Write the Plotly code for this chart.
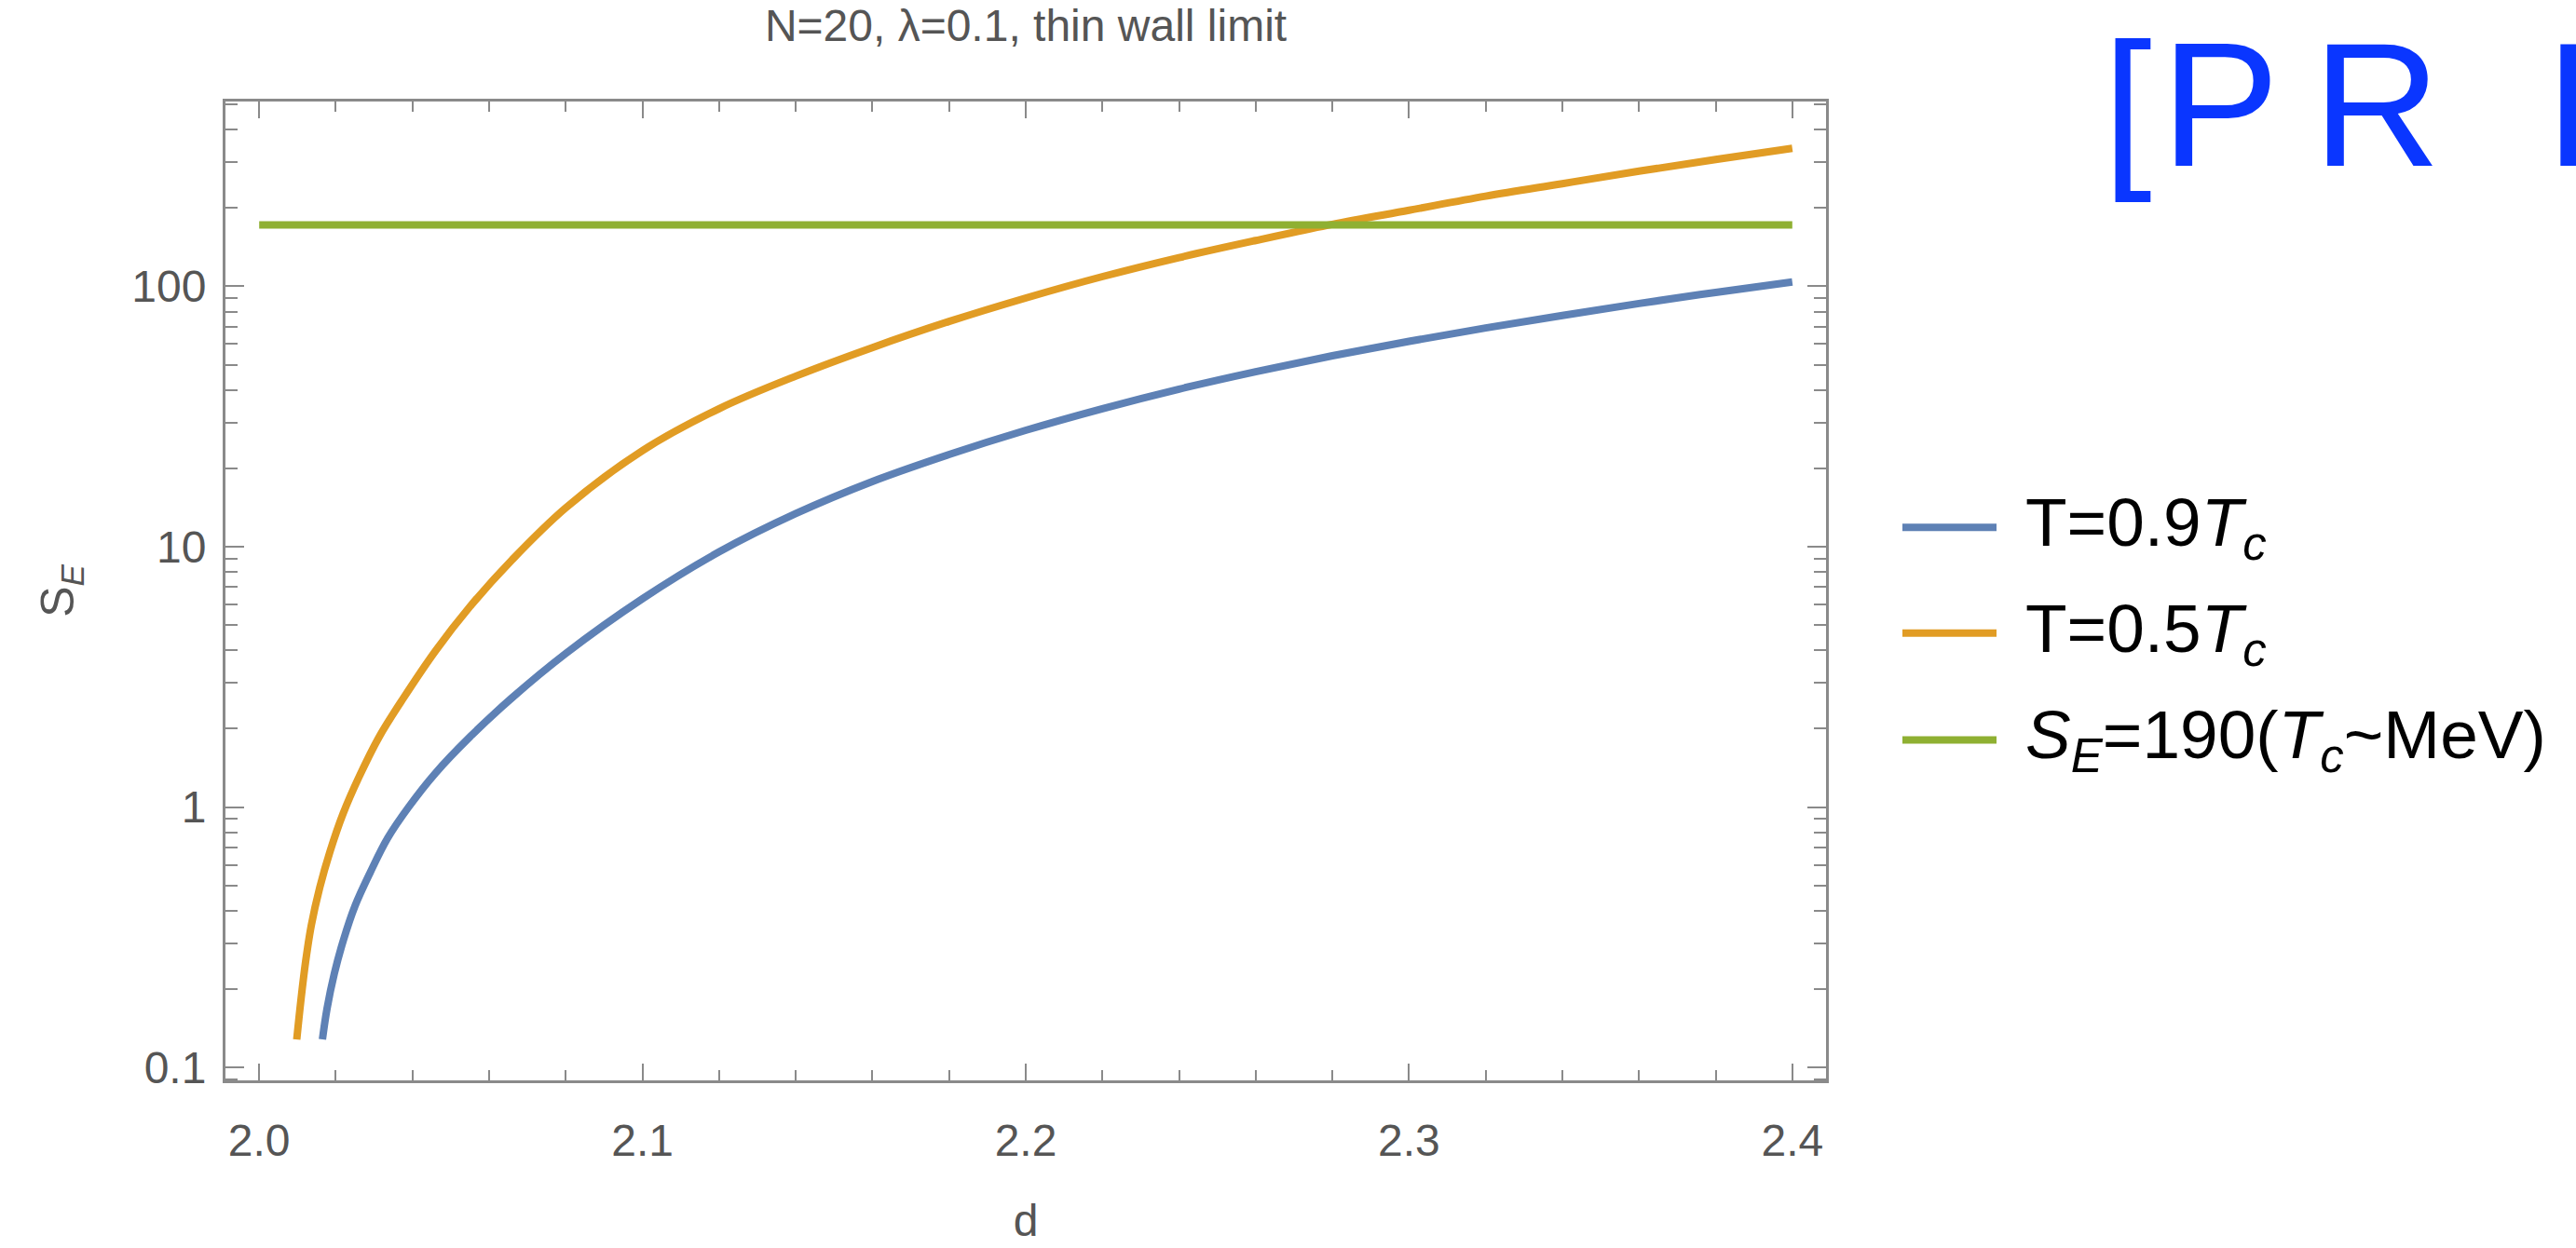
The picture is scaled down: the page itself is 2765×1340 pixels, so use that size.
import plotly.graph_objects as go

# ---- data ----
d_09 = [2.0165, 2.0177, 2.0196, 2.022, 2.025, 2.029, 2.0335, 2.039, 2.046, 2.055,
        2.066, 2.08, 2.10, 2.12, 2.14, 2.16, 2.18, 2.20, 2.22, 2.24, 2.26, 2.28,
        2.30, 2.32, 2.34, 2.36, 2.38, 2.40]
se_09 = [0.128, 0.168, 0.229, 0.309, 0.417, 0.562, 0.759, 1.0, 1.35, 1.86,
         2.63, 3.89, 6.31, 9.55, 13.4, 17.8, 22.6, 28.0, 33.9, 40.3, 47.0, 54.1,
         61.5, 69.2, 77.3, 85.9, 94.8, 104]

d_05 = [2.0098, 2.0109, 2.0121, 2.0136, 2.0158, 2.0185, 2.0219, 2.026, 2.0313, 2.0377,
        2.046, 2.055, 2.066, 2.08, 2.10, 2.12, 2.14, 2.16, 2.18, 2.20, 2.22, 2.24,
        2.26, 2.28, 2.30, 2.32, 2.34, 2.36, 2.38, 2.40]
se_05 = [0.128, 0.182, 0.254, 0.351, 0.49, 0.676, 0.944, 1.30, 1.86, 2.63,
         3.98, 5.89, 8.91, 14.1, 23.4, 33.9, 45.2, 58.2, 73.3, 90.2, 109, 129,
         150, 173, 196, 222, 248, 277, 307, 339]

d_bound = [2.0, 2.4]
se_bound = [172, 172]

names = ["T=0.9<i>T</i><sub><i>c</i></sub>",
         "T=0.5<i>T</i><sub><i>c</i></sub>",
         "<i>S</i><sub><i>E</i></sub>=190(<i>T</i><sub><i>c</i></sub>~MeV)"]
colors = ["#5E81B5", "#E19C24", "#8FB032"]

x_major = [2.0, 2.1, 2.2, 2.3, 2.4]
x_minor = [2.02, 2.04, 2.06, 2.08, 2.12, 2.14, 2.16, 2.18, 2.22, 2.24, 2.26, 2.28,
           2.32, 2.34, 2.36, 2.38]
y_major = [0.1, 1, 10, 100]
y_major_text = ["0.1", "1", "10", "100"]
y_minor = [0.09] + [m * 10.0 ** e for e in (-1, 0, 1) for m in range(2, 10)] + [200, 300, 400, 500]

FONT = "Liberation Sans, Arial, sans-serif"
AX = "#8a8a8a"
TXT = "#555555"

fig = go.Figure()
for xs, ys, c, n in [(d_09, se_09, colors[0], names[0]),
                     (d_05, se_05, colors[1], names[1]),
                     (d_bound, se_bound, colors[2], names[2])]:
    fig.add_trace(go.Scatter(x=xs, y=ys, mode="lines", name=n,
                             line=dict(color=c, width=8, shape="spline", smoothing=1.0),
                             showlegend=False))

W, H = 2765, 1340
L, R, T, B = 242, 1960, 109, 1164

axis_common = dict(showline=True, linecolor=AX, linewidth=3, mirror="ticks",
                   ticks="inside", tickcolor=AX, tickwidth=2, showgrid=False,
                   zeroline=False, tickfont=dict(family=FONT, size=48, color=TXT))

fig.update_xaxes(range=[1.9912, 2.4088], tickvals=x_major, tickformat=".1f",
                 ticklen=18, ticklabelstandoff=20,
                 minor=dict(tickvals=x_minor, ticks="inside", ticklen=11,
                            tickcolor=AX, tickwidth=2),
                 title=dict(text="d", font=dict(family=FONT, size=48, color=TXT), standoff=44),
                 **axis_common)
fig.update_yaxes(type="log", range=[-1.05, 2.71], tickvals=y_major, ticktext=y_major_text,
                 ticklen=20, ticklabelstandoff=8,
                 minor=dict(tickvals=y_minor, ticks="inside", ticklen=13,
                            tickcolor=AX, tickwidth=2),
                 title=dict(text="S<sub><i>E</i></sub>", font=dict(family=FONT, size=50, color=TXT),
                            standoff=46),
                 **axis_common)

# manual legend (long line samples like the reference)
pw = R - L
ph = B - T
def px(xp):
    return (xp - L) / pw
def py(yp):
    return (B - yp) / ph

rows = [568, 682, 797]
for c, n, yr in zip(colors, names, rows):
    fig.add_shape(type="line", xref="paper", yref="paper",
                  x0=px(2042), x1=px(2143), y0=py(yr), y1=py(yr),
                  line=dict(color=c, width=8))
    fig.add_annotation(xref="paper", yref="paper", x=px(2172), y=py(yr),
                       xanchor="left", yanchor="middle", showarrow=False, text=n,
                       font=dict(family=FONT, size=73, color="black"))

fig.add_annotation(xref="paper", yref="paper", x=px(2255), y=py(112),
                   xanchor="left", yanchor="middle", showarrow=False,
                   text='<span style="letter-spacing:10px">[</span>'
                        '<span style="letter-spacing:36px">P</span>'
                        '<span style="letter-spacing:113px">R</span>L]',
                   font=dict(family=FONT, size=190, color="#0A36FF"))

fig.update_layout(
    width=W, height=H,
    margin=dict(l=L, r=W - R, t=T, b=H - B),
    paper_bgcolor="white", plot_bgcolor="white",
    title=dict(text="N=20, λ=0.1, thin wall limit", x=(L + R) / 2 / W, xanchor="center",
               y=1 - 27 / H, yanchor="middle", yref="container",
               font=dict(family=FONT, size=48, color=TXT)),
    showlegend=False,
)

fig.write_html("out.html")
